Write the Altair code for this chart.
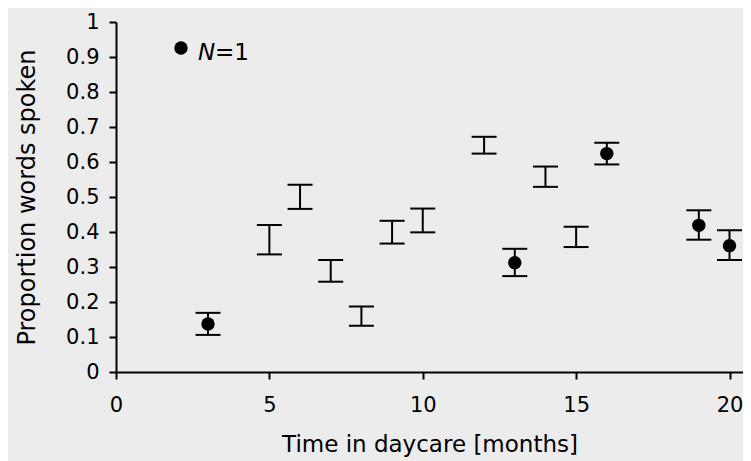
import altair as alt
import pandas as pd

# Error-bar ranges per month
months = [3, 5, 6, 7, 8, 9, 10, 12, 13, 14, 15, 16, 19, 20]
lower = [0.106, 0.336, 0.466, 0.258, 0.132, 0.367, 0.399, 0.624, 0.274, 0.529, 0.357, 0.593, 0.378, 0.320]
upper = [0.169, 0.420, 0.535, 0.320, 0.187, 0.432, 0.467, 0.672, 0.352, 0.587, 0.415, 0.655, 0.462, 0.405]

# Single-child (N=1) observations
point_months = [3, 13, 16, 19, 20]
point_values = [0.137, 0.312, 0.624, 0.419, 0.361]

# Axis ticks
x_ticks = [0, 5, 10, 15, 20]
y_ticks = [0, 0.1, 0.2, 0.3, 0.4, 0.5, 0.6, 0.7, 0.8, 0.9, 1]

legend_italic = ["N"]
legend_rest = ["=1"]

FONT = "DejaVu Sans"

bars = pd.DataFrame({"month": months, "lower": lower, "upper": upper})
pts = pd.DataFrame({"month": point_months, "value": point_values})

xscale = alt.Scale(domain=[0, 20.44], nice=False, zero=False)
yscale = alt.Scale(domain=[0, 1], nice=False)

xaxis = alt.Axis(values=x_ticks, title="Time in daycare [months]", titlePadding=18, labelPadding=15,
                 titleFontSize=23, tickCount=5)
yaxis = alt.Axis(values=y_ticks, format="~g", title="Proportion words spoken", titlePadding=26,
                 labelPadding=10, titleFontSize=24, tickCount=11)


def X(field):
    return alt.X(field, scale=xscale, axis=xaxis)


def Y(field):
    return alt.Y(field, scale=yscale, axis=yaxis)


base = alt.Chart(bars)

rules = base.mark_rule(color="black", strokeWidth=2).encode(
    x=X("month:Q"), y=Y("lower:Q"), y2="upper:Q"
)
caps_lo = base.mark_tick(color="black", orient="horizontal", size=25, thickness=2, opacity=1).encode(
    x=X("month:Q"), y=Y("lower:Q")
)
caps_hi = base.mark_tick(color="black", orient="horizontal", size=25, thickness=2, opacity=1).encode(
    x=X("month:Q"), y=Y("upper:Q")
)
dots = alt.Chart(pts).mark_circle(color="black", size=180, opacity=1).encode(
    x=X("month:Q"), y=Y("value:Q")
)

leg_dot = alt.Chart(pd.DataFrame({"t": legend_italic})).mark_circle(color="black", size=180, opacity=1).encode(
    x=alt.value(65), y=alt.value(26)
)
leg_n = alt.Chart(pd.DataFrame({"t": legend_italic})).mark_text(
    font=FONT, fontSize=23, fontStyle="italic", align="left", baseline="alphabetic", color="black"
).encode(x=alt.value(82), y=alt.value(38), text="t:N")
leg_rest = alt.Chart(pd.DataFrame({"t": legend_rest})).mark_text(
    font=FONT, fontSize=23, align="left", baseline="alphabetic", color="black"
).encode(x=alt.value(99), y=alt.value(38), text="t:N")

chart = (
    alt.layer(rules, caps_lo, caps_hi, dots, leg_dot, leg_n, leg_rest)
    .properties(
        width=627,
        height=350,
        autosize=alt.AutoSizeParams(type="none"),
        padding={"left": 108, "top": 14, "right": 0, "bottom": 89},
        background="#ececec",
    )
    .configure_view(stroke=None)
    .configure_axis(
        grid=False,
        domainColor="black",
        domainWidth=2,
        tickColor="black",
        tickWidth=2,
        tickSize=7,
        labelFont=FONT,
        labelFontSize=21,
        labelColor="black",
        labelFlush=False,
        labelOverlap=False,
        titleFont=FONT,
        titleFontWeight="normal",
        titleColor="black",
    )
)

chart.save("out.html", embed_options={"renderer": "svg", "actions": False})
